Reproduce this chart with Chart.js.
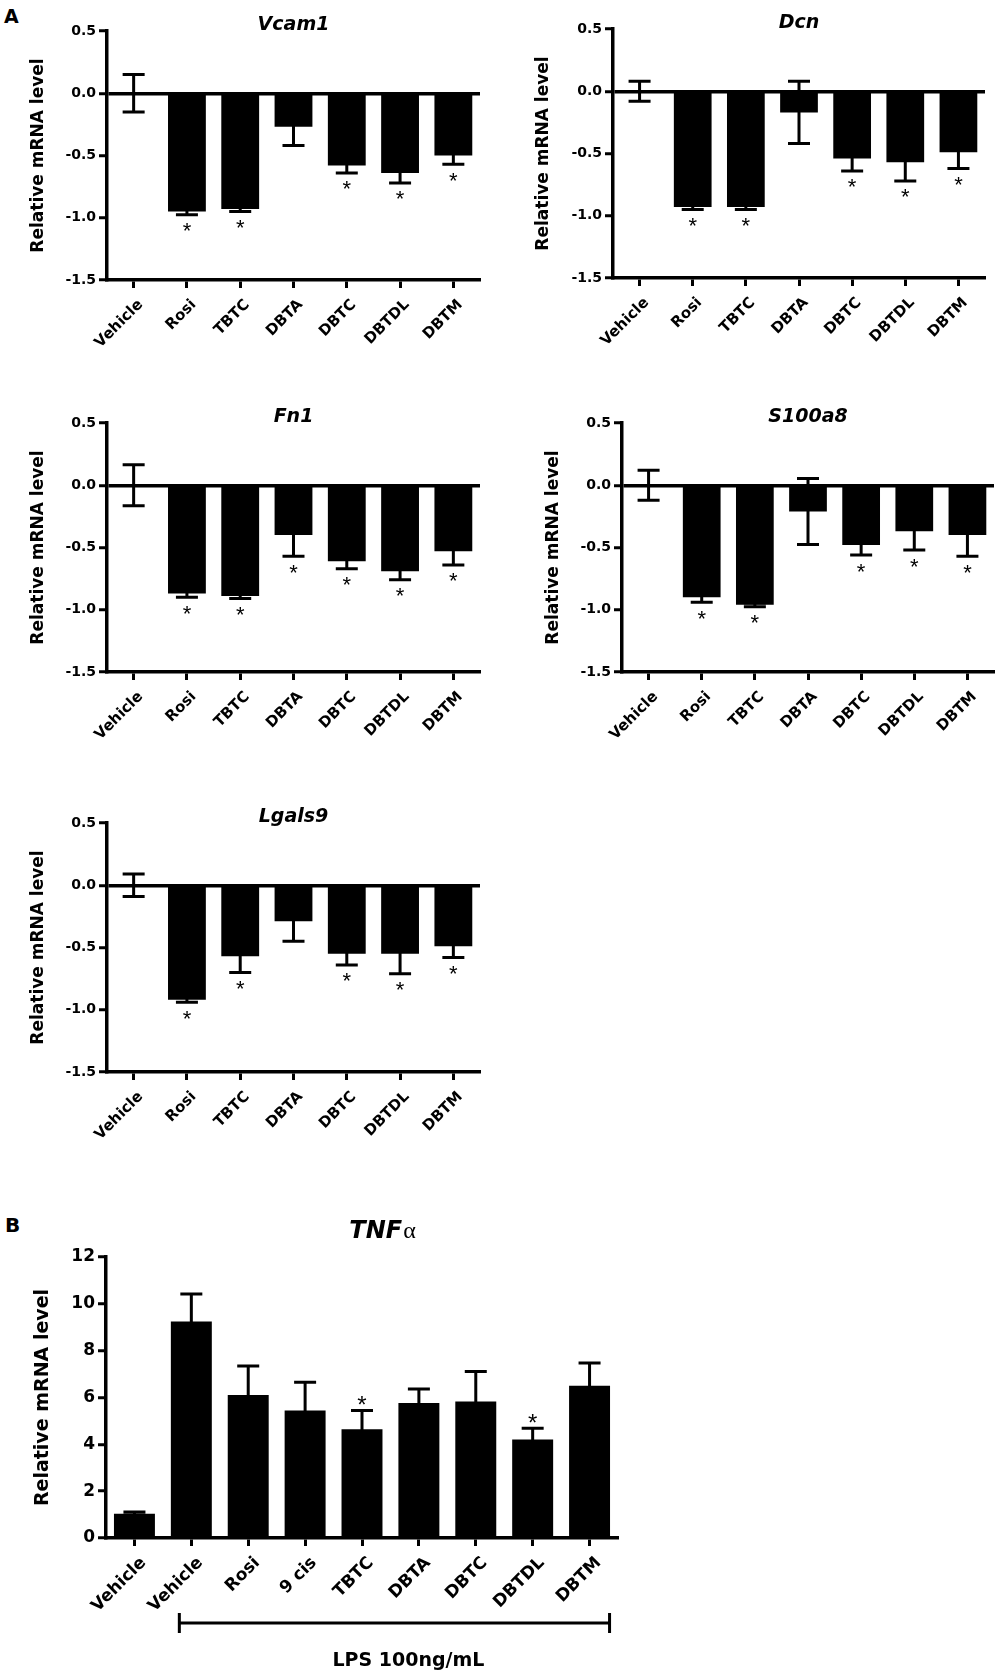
<!DOCTYPE html>
<html>
<head>
<meta charset="utf-8">
<script src="https://cdn.jsdelivr.net/npm/chart.js@4.4.1/dist/chart.umd.min.js"></script>
<style>
  body { margin: 0; background: #fff; }
  #page { position: relative; width: 1000px; height: 1677px; background: #fff; overflow: hidden; }
  canvas { position: absolute; }
  .tag { position: absolute; font: bold 19px 'DejaVu Sans', sans-serif; line-height: 19px; color: #000; }
</style>
</head>
<body>
<div id="page">
  <div class="tag" style="left:4px; top:7px;">A</div>
  <div class="tag" style="left:5px; top:1216px; font-size:20px;">B</div>
  <canvas id="vcam1" width="500" height="380" style="left:0px; top:0px;"></canvas>
  <canvas id="dcn" width="500" height="380" style="left:500px; top:0px;"></canvas>
  <canvas id="fn1" width="500" height="380" style="left:0px; top:390px;"></canvas>
  <canvas id="s100a8" width="500" height="380" style="left:500px; top:390px;"></canvas>
  <canvas id="lgals9" width="500" height="380" style="left:0px; top:790px;"></canvas>
  <canvas id="tnfa" width="660" height="487" style="left:0px; top:1190px;"></canvas>
</div>
<script>
// Panel A: treatment groups
const groupsA = ['Vehicle', 'Rosi', 'TBTC', 'DBTA', 'DBTC', 'DBTDL', 'DBTM'];
const ticksA = [0.5, 0.0, -0.5, -1.0, -1.5];

const vcam1Mean = [0, -0.95, -0.93, -0.27, -0.58, -0.64, -0.50];
const vcam1Sem  = [0.15, 0.025, 0.02, 0.15, 0.06, 0.08, 0.07];
const vcam1Star = [false, true, true, false, true, true, true];

const dcnMean = [0, -0.93, -0.93, -0.17, -0.54, -0.57, -0.49];
const dcnSem  = [0.08, 0.02, 0.02, 0.25, 0.10, 0.15, 0.13];
const dcnStar = [false, true, true, false, true, true, true];

const fn1Mean = [0, -0.87, -0.89, -0.40, -0.61, -0.69, -0.53];
const fn1Sem  = [0.165, 0.03, 0.02, 0.17, 0.06, 0.07, 0.11];
const fn1Star = [false, true, true, true, true, true, true];

const s100a8Mean = [0, -0.90, -0.96, -0.21, -0.48, -0.37, -0.40];
const s100a8Sem  = [0.12, 0.04, 0.015, 0.265, 0.08, 0.15, 0.17];
const s100a8Star = [false, true, true, false, true, true, true];

const lgals9Mean = [0, -0.92, -0.57, -0.29, -0.55, -0.55, -0.49];
const lgals9Sem  = [0.09, 0.02, 0.13, 0.16, 0.09, 0.16, 0.09];
const lgals9Star = [false, true, true, false, true, true, true];

// Panel B: TNFa with LPS
const groupsB = ['Vehicle', 'Vehicle', 'Rosi', '9 cis', 'TBTC', 'DBTA', 'DBTC', 'DBTDL', 'DBTM'];
const ticksB = [0, 2, 4, 6, 8, 10, 12];
const tnfMean = [1.04, 9.25, 6.11, 5.44, 4.64, 5.76, 5.83, 4.21, 6.50];
const tnfSem  = [0.07, 1.17, 1.24, 1.21, 0.80, 0.60, 1.28, 0.48, 0.97];
const tnfStar = [false, false, false, false, true, false, false, true, false];
const lpsGroups = [1, 8]; // first and last index under the LPS bracket

const FONT = "'DejaVu Sans', Arial, sans-serif";
Chart.defaults.font.family = FONT;
Chart.defaults.color = '#000';

// error bars, stars, gene title and LPS bracket
const decor = {
    id: 'decor',
    afterDatasetsDraw(chart, args, o) {
        const ctx = chart.ctx;
        const y = chart.scales.y;
        const bars = chart.getDatasetMeta(0).data;
        ctx.save();
        ctx.strokeStyle = '#000';
        ctx.fillStyle = '#000';
        ctx.lineWidth = 3;
        o.mean.forEach((m, i) => {
            const cx = bars[i].x;
            const lo = y.getPixelForValue(m - o.sem[i]);
            const hi = y.getPixelForValue(m + o.sem[i]);
            ctx.beginPath();
            ctx.moveTo(cx, lo); ctx.lineTo(cx, hi);
            ctx.moveTo(cx - o.cap, lo); ctx.lineTo(cx + o.cap, lo);
            ctx.moveTo(cx - o.cap, hi); ctx.lineTo(cx + o.cap, hi);
            ctx.stroke();
            if (o.star[i]) {
                ctx.font = o.starSize + "px Arial, 'Liberation Sans', sans-serif";
                ctx.textAlign = 'center';
                ctx.textBaseline = 'alphabetic';
                const centre = m < 0 ? lo + o.starGap : hi - o.starGap;
                ctx.fillText('*', cx, centre + 0.57 * o.starSize);
            }
        });
        ctx.restore();
    },
    afterDraw(chart, args, o) {
        const ctx = chart.ctx;
        const area = chart.chartArea;
        ctx.save();
        ctx.fillStyle = '#000';
        ctx.textBaseline = 'alphabetic';
        const ty = area.top - o.titleGap;
        const tx = (area.left + area.right) / 2 + (o.titleShift || 0);
        ctx.font = 'italic bold ' + o.titleSize + 'px ' + FONT;
        if (o.greek) {
            const w1 = ctx.measureText(o.title).width;
            ctx.font = o.titleSize + "px 'Times New Roman', 'Liberation Serif', serif";
            const w2 = ctx.measureText(o.greek).width;
            const x0 = tx - (w1 + w2) / 2;
            ctx.textAlign = 'left';
            ctx.fillText(o.greek, x0 + w1 + 1, ty);
            ctx.font = 'italic bold ' + o.titleSize + 'px ' + FONT;
            ctx.fillText(o.title, x0, ty);
        } else {
            ctx.textAlign = 'center';
            ctx.fillText(o.title, tx, ty);
        }
        if (o.bracket) {
            const bars = chart.getDatasetMeta(0).data;
            const bl = bars[o.bracket[0]].x - 12;
            const br = bars[o.bracket[1]].x + 20;
            const by = area.bottom + 85;
            ctx.strokeStyle = '#000';
            ctx.lineWidth = 3;
            ctx.beginPath();
            ctx.moveTo(bl, by); ctx.lineTo(br, by);
            ctx.moveTo(bl, by - 10); ctx.lineTo(bl, by + 10);
            ctx.moveTo(br, by - 10); ctx.lineTo(br, by + 10);
            ctx.stroke();
            ctx.font = 'bold 19px ' + FONT;
            ctx.textAlign = 'center';
            ctx.fillText(o.bracketText, (bl + br) / 2 + 14, by + 43);
        }
        ctx.restore();
    }
};

const makePanel = (id, p) => {
    const zeroLine = p.zeroLine;
    const lowest = Math.min(...p.ticks);
    const highest = Math.max(...p.ticks);
    return new Chart(document.getElementById(id), {
        type: 'bar',
        data: {
            labels: p.labels,
            datasets: [{
                data: p.mean,
                backgroundColor: '#000',
                borderWidth: 0,
                barPercentage: p.barPct,
                categoryPercentage: 1
            }]
        },
        options: {
            responsive: false,
            animation: false,
            devicePixelRatio: 1,
            layout: { padding: { top: p.padTop, right: p.padRight, left: 0, bottom: 0 } },
            plugins: {
                legend: { display: false },
                tooltip: { enabled: false },
                decor: {
                    mean: p.mean, sem: p.sem, star: p.star,
                    cap: 11, starSize: p.starSize, starGap: 11,
                    title: p.title, greek: p.greek, titleSize: p.titleSize,
                    titleGap: p.titleGap, titleShift: p.titleShift,
                    bracket: p.bracket, bracketText: p.bracketText
                }
            },
            scales: {
                x: {
                    afterFit: (s) => { s.height = p.xHeight; },
                    border: { color: '#000', width: 3.5 },
                    grid: {
                        display: true, drawOnChartArea: false, offset: false,
                        tickLength: 8, tickColor: '#000', tickWidth: 3
                    },
                    ticks: {
                        autoSkip: false, minRotation: 45, maxRotation: 45,
                        padding: p.xPad, labelOffset: p.xShift,
                        font: { size: p.xFont, weight: 'bold' }
                    }
                },
                y: {
                    min: lowest,
                    max: highest,
                    afterFit: (s) => { s.width = p.yWidth; },
                    afterBuildTicks: (s) => { s.ticks = p.ticks.map(v => ({ value: v })); },
                    border: { color: '#000', width: 3.5 },
                    grid: {
                        drawOnChartArea: zeroLine,
                        color: (c) => (zeroLine && c.tick && c.tick.value === 0) ? '#000' : 'rgba(0,0,0,0)',
                        lineWidth: 3.5,
                        tickLength: 8, tickColor: '#000', tickWidth: 3
                    },
                    ticks: {
                        padding: 3,
                        font: { size: p.yFont, weight: 'bold' },
                        callback: (v) => p.decimals ? Number(v).toFixed(p.decimals) : String(v)
                    },
                    title: {
                        display: true,
                        text: 'Relative mRNA level',
                        font: { size: p.yTitleFont, weight: 'bold' },
                        padding: { top: p.yTitlePad, bottom: 0 }
                    }
                }
            }
        },
        plugins: [decor]
    });
};

const panelA = (id, title, mean, sem, star, padTop, padRight, yWidth, xHeight, yTitlePad) =>
    makePanel(id, {
        labels: groupsA, ticks: ticksA, mean, sem, star, title,
        padTop, padRight, yWidth, xHeight, yTitlePad,
        zeroLine: true, decimals: 1, barPct: 0.71,
        xFont: 15, xPad: 8, xShift: 7,
        yFont: 14, yTitleFont: 17, titleSize: 19, titleGap: 1, starSize: 22
    });

// y-axis title sits about 38px from the canvas edge: padding = centre - lineHeight/2
panelA('vcam1', 'Vcam1', vcam1Mean, vcam1Sem, vcam1Star, 31, 20, 107, 100, 28);
panelA('dcn', 'Dcn', dcnMean, dcnSem, dcnStar, 29, 15, 113, 102, 33);
panelA('fn1', 'Fn1', fn1Mean, fn1Sem, fn1Star, 33, 20, 107, 98, 28);
panelA('s100a8', 'S100a8', s100a8Mean, s100a8Sem, s100a8Star, 33, 6, 122, 98, 43);
panelA('lgals9', 'Lgals9', lgals9Mean, lgals9Sem, lgals9Star, 33, 20, 107, 98, 28);

makePanel('tnfa', {
    labels: groupsB, ticks: ticksB, mean: tnfMean, sem: tnfSem, star: tnfStar,
    title: 'TNF', greek: 'α', titleSize: 24, titleGap: 19, titleShift: 20,
    padTop: 67, padRight: 42, yWidth: 106, xHeight: 139, yTitlePad: 32,
    zeroLine: false, decimals: 0, barPct: 0.72,
    xFont: 17, xPad: 7, xShift: 9,
    yFont: 17, yTitleFont: 19, starSize: 24,
    bracket: lpsGroups, bracketText: 'LPS 100ng/mL'
});
</script>
</body>
</html>
